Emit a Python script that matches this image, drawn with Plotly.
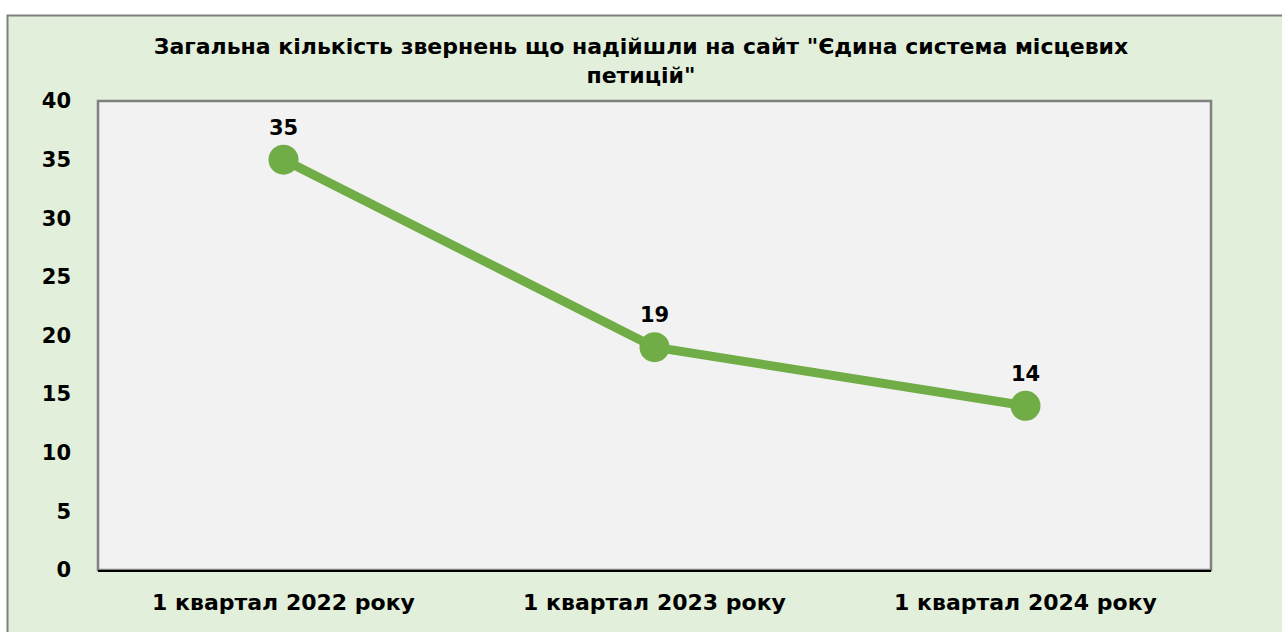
import plotly.graph_objects as go

categories = ["1 квартал 2022 року", "1 квартал 2023 року", "1 квартал 2024 року"]
values = [35, 19, 14]
y_ticks = [0, 5, 10, 15, 20, 25, 30, 35, 40]
title_text = "Загальна кількість звернень що надійшли на сайт \"Єдина система місцевих<br>петицій\""

W, H = 1282, 632
L, R, T, B = 98, 71, 101, 62
PW, PH = W - L - R, H - T - B

def px(x):
    return (x - L) / PW

def py(y):
    return (H - B - y) / PH

FONT = "DejaVu Sans"

fig = go.Figure()
fig.add_trace(go.Scatter(
    x=categories, y=values, mode="lines+markers+text",
    line=dict(color="#70AD47", width=9),
    marker=dict(size=30, color="#70AD47"),
    text=[str(v) for v in values], textposition="top center",
    textfont=dict(family=FONT, size=21, color="#000000", weight="bold"),
    cliponaxis=False, hoverinfo="skip", showlegend=False,
))

shapes = [
    dict(type="rect", xref="paper", yref="paper", x0=px(-10), x1=px(W + 10), y0=py(15), y1=py(-10),
         fillcolor="white", line=dict(width=0), layer="below"),
    dict(type="rect", xref="paper", yref="paper", x0=px(-10), x1=px(7), y0=py(H + 10), y1=py(-10),
         fillcolor="white", line=dict(width=0), layer="below"),
    dict(type="rect", xref="paper", yref="paper", x0=px(7.5), x1=px(W + 20), y0=py(H + 20), y1=py(15.5),
         fillcolor="rgba(0,0,0,0)", line=dict(color="#7F7F7F", width=2), layer="below"),
    dict(type="rect", xref="paper", yref="paper", x0=0, x1=1, y0=0, y1=1,
         fillcolor="rgba(0,0,0,0)", line=dict(color="#808080", width=2.5), layer="below"),
]

fig.update_layout(
    width=W, height=H,
    margin=dict(l=L, r=R, t=T, b=B, pad=0),
    paper_bgcolor="#E2EFDA", plot_bgcolor="#F2F2F2",
    title=dict(text=title_text, x=641 / W, xanchor="center", y=1 - 54 / H, yanchor="middle",
               font=dict(family=FONT, size=22, color="#000000", weight="bold")),
    xaxis=dict(type="category", range=[-0.5, 2.5], showgrid=False, zeroline=False,
               showline=True, linecolor="#000000", linewidth=2, ticks="",
               tickfont=dict(family=FONT, size=22, color="#000000", weight="bold"),
               ticklabelstandoff=12),
    yaxis=dict(range=[0, 40], tickvals=y_ticks, showgrid=False, zeroline=False,
               showline=False, ticks="",
               tickfont=dict(family=FONT, size=21, color="#000000", weight="bold"),
               ticklabelstandoff=26),
    shapes=shapes,
)

fig.write_html("out.html", config={"displayModeBar": False},
               post_script="document.body.style.margin='0';document.body.style.padding='0';")
